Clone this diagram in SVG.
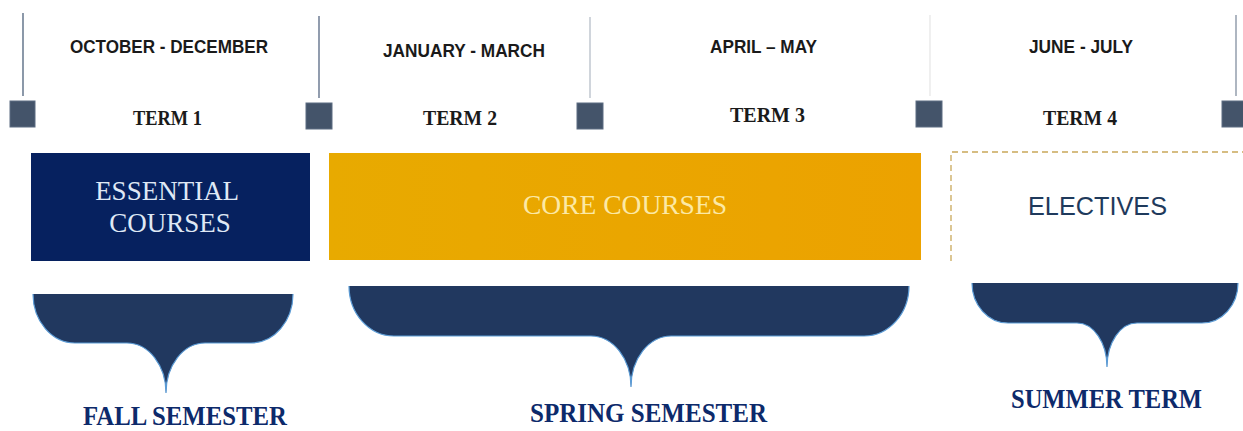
<svg xmlns="http://www.w3.org/2000/svg" width="1243" height="431" viewBox="0 0 1243 431">
  <style>
    .tick { stroke-width: 1.6; fill: none; }
    .sq { fill: #44546a; stroke: #5c6c82; stroke-width: 1; }
    .hdr { font-family: "Liberation Sans", Arial, sans-serif; font-weight: bold; font-size: 18px; fill: #1a1a1a; text-anchor: start; }
    .term { font-family: "Liberation Serif", "Times New Roman", serif; font-weight: bold; font-size: 21px; fill: #1a1a1a; }
    .brace { fill: #21385f; }
    .braceEdge { fill: none; stroke: #5b9bd5; stroke-width: 1.2; }
    .sem { font-family: "Liberation Serif", "Times New Roman", serif; font-weight: bold; font-size: 28px; fill: #0d2a6b; }
  </style>
  <defs>
    <linearGradient id="coreGrad" x1="0" y1="0" x2="1" y2="0">
      <stop offset="0" stop-color="#e8aa00"/>
      <stop offset="1" stop-color="#eca200"/>
    </linearGradient>
  </defs>
  <rect width="1243" height="431" fill="#ffffff"/>

  <g id="connectors">
    <line class="tick" x1="23" y1="13" x2="23" y2="96" stroke="#6f7f94"/>
    <line class="tick" x1="319" y1="16" x2="319" y2="98" stroke="#76849a"/>
    <line class="tick" x1="590" y1="17" x2="590" y2="98" stroke="#c5cbd3"/>
    <line class="tick" x1="930" y1="15" x2="930" y2="96" stroke="#ececec"/>
    <line class="tick" x1="1236" y1="15" x2="1236" y2="96" stroke="#9aa4b2"/>
  </g>

  <g id="markers">
    <rect class="sq" x="10" y="101" width="25" height="26"/>
    <rect class="sq" x="306" y="103" width="26" height="26"/>
    <rect class="sq" x="577" y="103" width="26" height="26"/>
    <rect class="sq" x="916" y="101" width="26" height="26"/>
    <rect class="sq" x="1222" y="101" width="26" height="26"/>
  </g>

  <g id="term1">
    <text class="hdr" x="70" y="53" textLength="198" lengthAdjust="spacingAndGlyphs">OCTOBER - DECEMBER</text>
    <text class="term" x="133" y="125" textLength="69" lengthAdjust="spacingAndGlyphs">TERM 1</text>
  </g>
  <g id="term2">
    <text class="hdr" x="383" y="57" textLength="162" lengthAdjust="spacingAndGlyphs">JANUARY - MARCH</text>
    <text class="term" x="423" y="125" textLength="74" lengthAdjust="spacingAndGlyphs">TERM 2</text>
  </g>
  <g id="term3">
    <text class="hdr" x="710" y="53" textLength="107" lengthAdjust="spacingAndGlyphs">APRIL – MAY</text>
    <text class="term" x="730" y="122" textLength="75" lengthAdjust="spacingAndGlyphs">TERM 3</text>
  </g>
  <g id="term4">
    <text class="hdr" x="1029" y="53" textLength="104" lengthAdjust="spacingAndGlyphs">JUNE - JULY</text>
    <text class="term" x="1043" y="125" textLength="74" lengthAdjust="spacingAndGlyphs">TERM 4</text>
  </g>

  <g id="essential">
    <rect x="31" y="153" width="279" height="108" fill="#06215f"/>
    <text font-family="Liberation Serif, Times New Roman, serif" font-size="27" fill="#dfe8f5" text-anchor="middle">
      <tspan x="170" y="200">ESSENTIAL</tspan>
      <tspan x="170" y="232">COURSES</tspan>
    </text>
  </g>

  <g id="core">
    <rect x="329" y="153" width="592" height="107" fill="url(#coreGrad)"/>
    <text x="523" y="214" font-family="Liberation Serif, Times New Roman, serif" font-size="27" fill="#fce9a5" textLength="204" lengthAdjust="spacingAndGlyphs">CORE COURSES</text>
  </g>

  <g id="electives">
    <path d="M951,261 V152 H1243" fill="none" stroke="#c9a85a" stroke-width="1.3" stroke-dasharray="6 4"/>
    <text x="1028" y="215" font-family="Liberation Sans, Arial, sans-serif" font-size="26" fill="#1f3a5c" textLength="139" lengthAdjust="spacingAndGlyphs">ELECTIVES</text>
  </g>

  <g id="fall">
    <path class="brace" d="M33,294 H293 A42,49 0 0 1 251,343 H205 A39,50 0 0 0 166,393 A39,50 0 0 0 127,343 H75 A42,49 0 0 1 33,294 Z"/>
    <path class="braceEdge" d="M33,294 A42,49 0 0 0 75,343 H127 A39,50 0 0 1 166,393 A39,50 0 0 1 205,343 H251 A42,49 0 0 0 293,294"/>
    <text class="sem" x="83" y="425" textLength="204" lengthAdjust="spacingAndGlyphs">FALL SEMESTER</text>
  </g>

  <g id="spring">
    <path class="brace" d="M349,286 H909 A45,50 0 0 1 864,336 H671 A40,51 0 0 0 631,387 A40,51 0 0 0 591,336 H394 A45,50 0 0 1 349,286 Z"/>
    <path class="braceEdge" d="M349,286 A45,50 0 0 0 394,336 H591 A40,51 0 0 1 631,387 A40,51 0 0 1 671,336 H864 A45,50 0 0 0 909,286"/>
    <text class="sem" x="530" y="422" textLength="237" lengthAdjust="spacingAndGlyphs">SPRING SEMESTER</text>
  </g>

  <g id="summer">
    <path class="brace" d="M972,283 H1238 A36,40 0 0 1 1202,323 H1137 A30,44 0 0 0 1107,367 A30,44 0 0 0 1077,323 H1008 A36,40 0 0 1 972,283 Z"/>
    <path class="braceEdge" d="M972,283 A36,40 0 0 0 1008,323 H1077 A30,44 0 0 1 1107,367 A30,44 0 0 1 1137,323 H1202 A36,40 0 0 0 1238,283"/>
    <text class="sem" x="1011" y="408" textLength="191" lengthAdjust="spacingAndGlyphs">SUMMER TERM</text>
  </g>
</svg>
